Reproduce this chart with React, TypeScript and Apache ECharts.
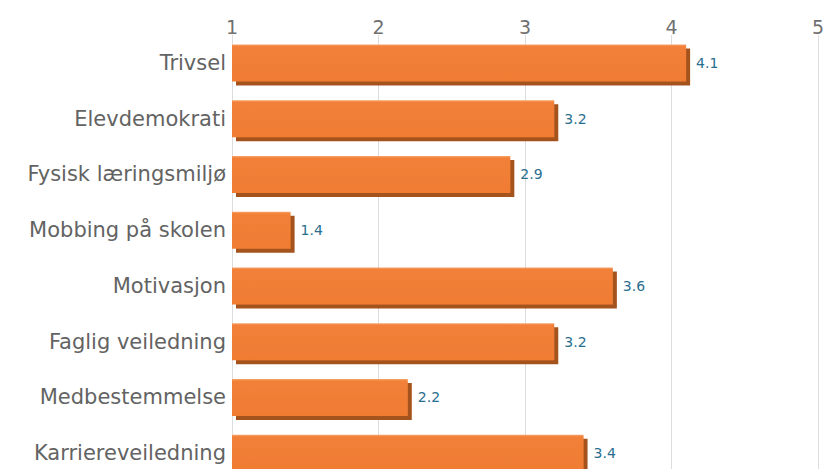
import React, { useEffect, useRef } from "react";
import * as echarts from "echarts";

const categories = [
  "Trivsel",
  "Elevdemokrati",
  "Fysisk læringsmiljø",
  "Mobbing på skolen",
  "Motivasjon",
  "Faglig veiledning",
  "Medbestemmelse",
  "Karriereveiledning",
];
const values = [4.1, 3.2, 2.9, 1.4, 3.6, 3.2, 2.2, 3.4];
const axisMin = 1;
const axisMax = 5;

export default function App() {
  const ref = useRef<HTMLDivElement>(null);
  useEffect(() => {
    if (!ref.current) return;
    const chart = echarts.init(ref.current, null, { renderer: "svg" });
    chart.setOption({
      animation: false,
      backgroundColor: "#ffffff",
      grid: { left: 232, right: 4, top: 35, bottom: 0, containLabel: false },
      xAxis: {
        type: "value",
        position: "top",
        min: axisMin,
        max: axisMax,
        interval: 1,
        axisLine: { show: false },
        axisTick: { show: false },
        axisLabel: {
          color: "#707070",
          fontFamily: "DejaVu Sans",
          fontSize: 19,
          margin: -1,
          showMaxLabel: true,
        },
        splitLine: { show: true, lineStyle: { color: "#dcdcdc", width: 1 } },
      },
      yAxis: {
        type: "category",
        data: categories,
        inverse: true,
        axisLine: { show: false },
        axisTick: { show: false },
        axisLabel: {
          color: "#636363",
          fontFamily: "DejaVu Sans",
          fontSize: 21,
          margin: 6,
          interval: 0,
        },
      },
      series: [
        {
          type: "bar",
          data: values,
          barWidth: 37,
          itemStyle: {
            color: {
              type: "linear",
              x: 0,
              y: 0,
              x2: 0,
              y2: 1,
              colorStops: [
                { offset: 0, color: "#f6a66e" },
                { offset: 0.06, color: "#f28038" },
                { offset: 1, color: "#f07c33" },
              ],
            },
            shadowColor: "#a4521f",
            shadowOffsetX: 4,
            shadowOffsetY: 4,
            shadowBlur: 0,
          },
          label: {
            show: true,
            position: "right",
            distance: 10,
            color: "#2a6e8e",
            fontFamily: "DejaVu Sans",
            fontSize: 14,
            formatter: (p: any) => p.value.toFixed(1),
          },
        },
      ],
    });
    return () => chart.dispose();
  }, []);
  return (
    <div
      style={{
        position: "absolute",
        left: 0,
        top: 0,
        width: 827,
        height: 469,
        overflow: "hidden",
      }}
    >
      <div ref={ref} style={{ width: 827, height: 481 }} />
    </div>
  );
}
